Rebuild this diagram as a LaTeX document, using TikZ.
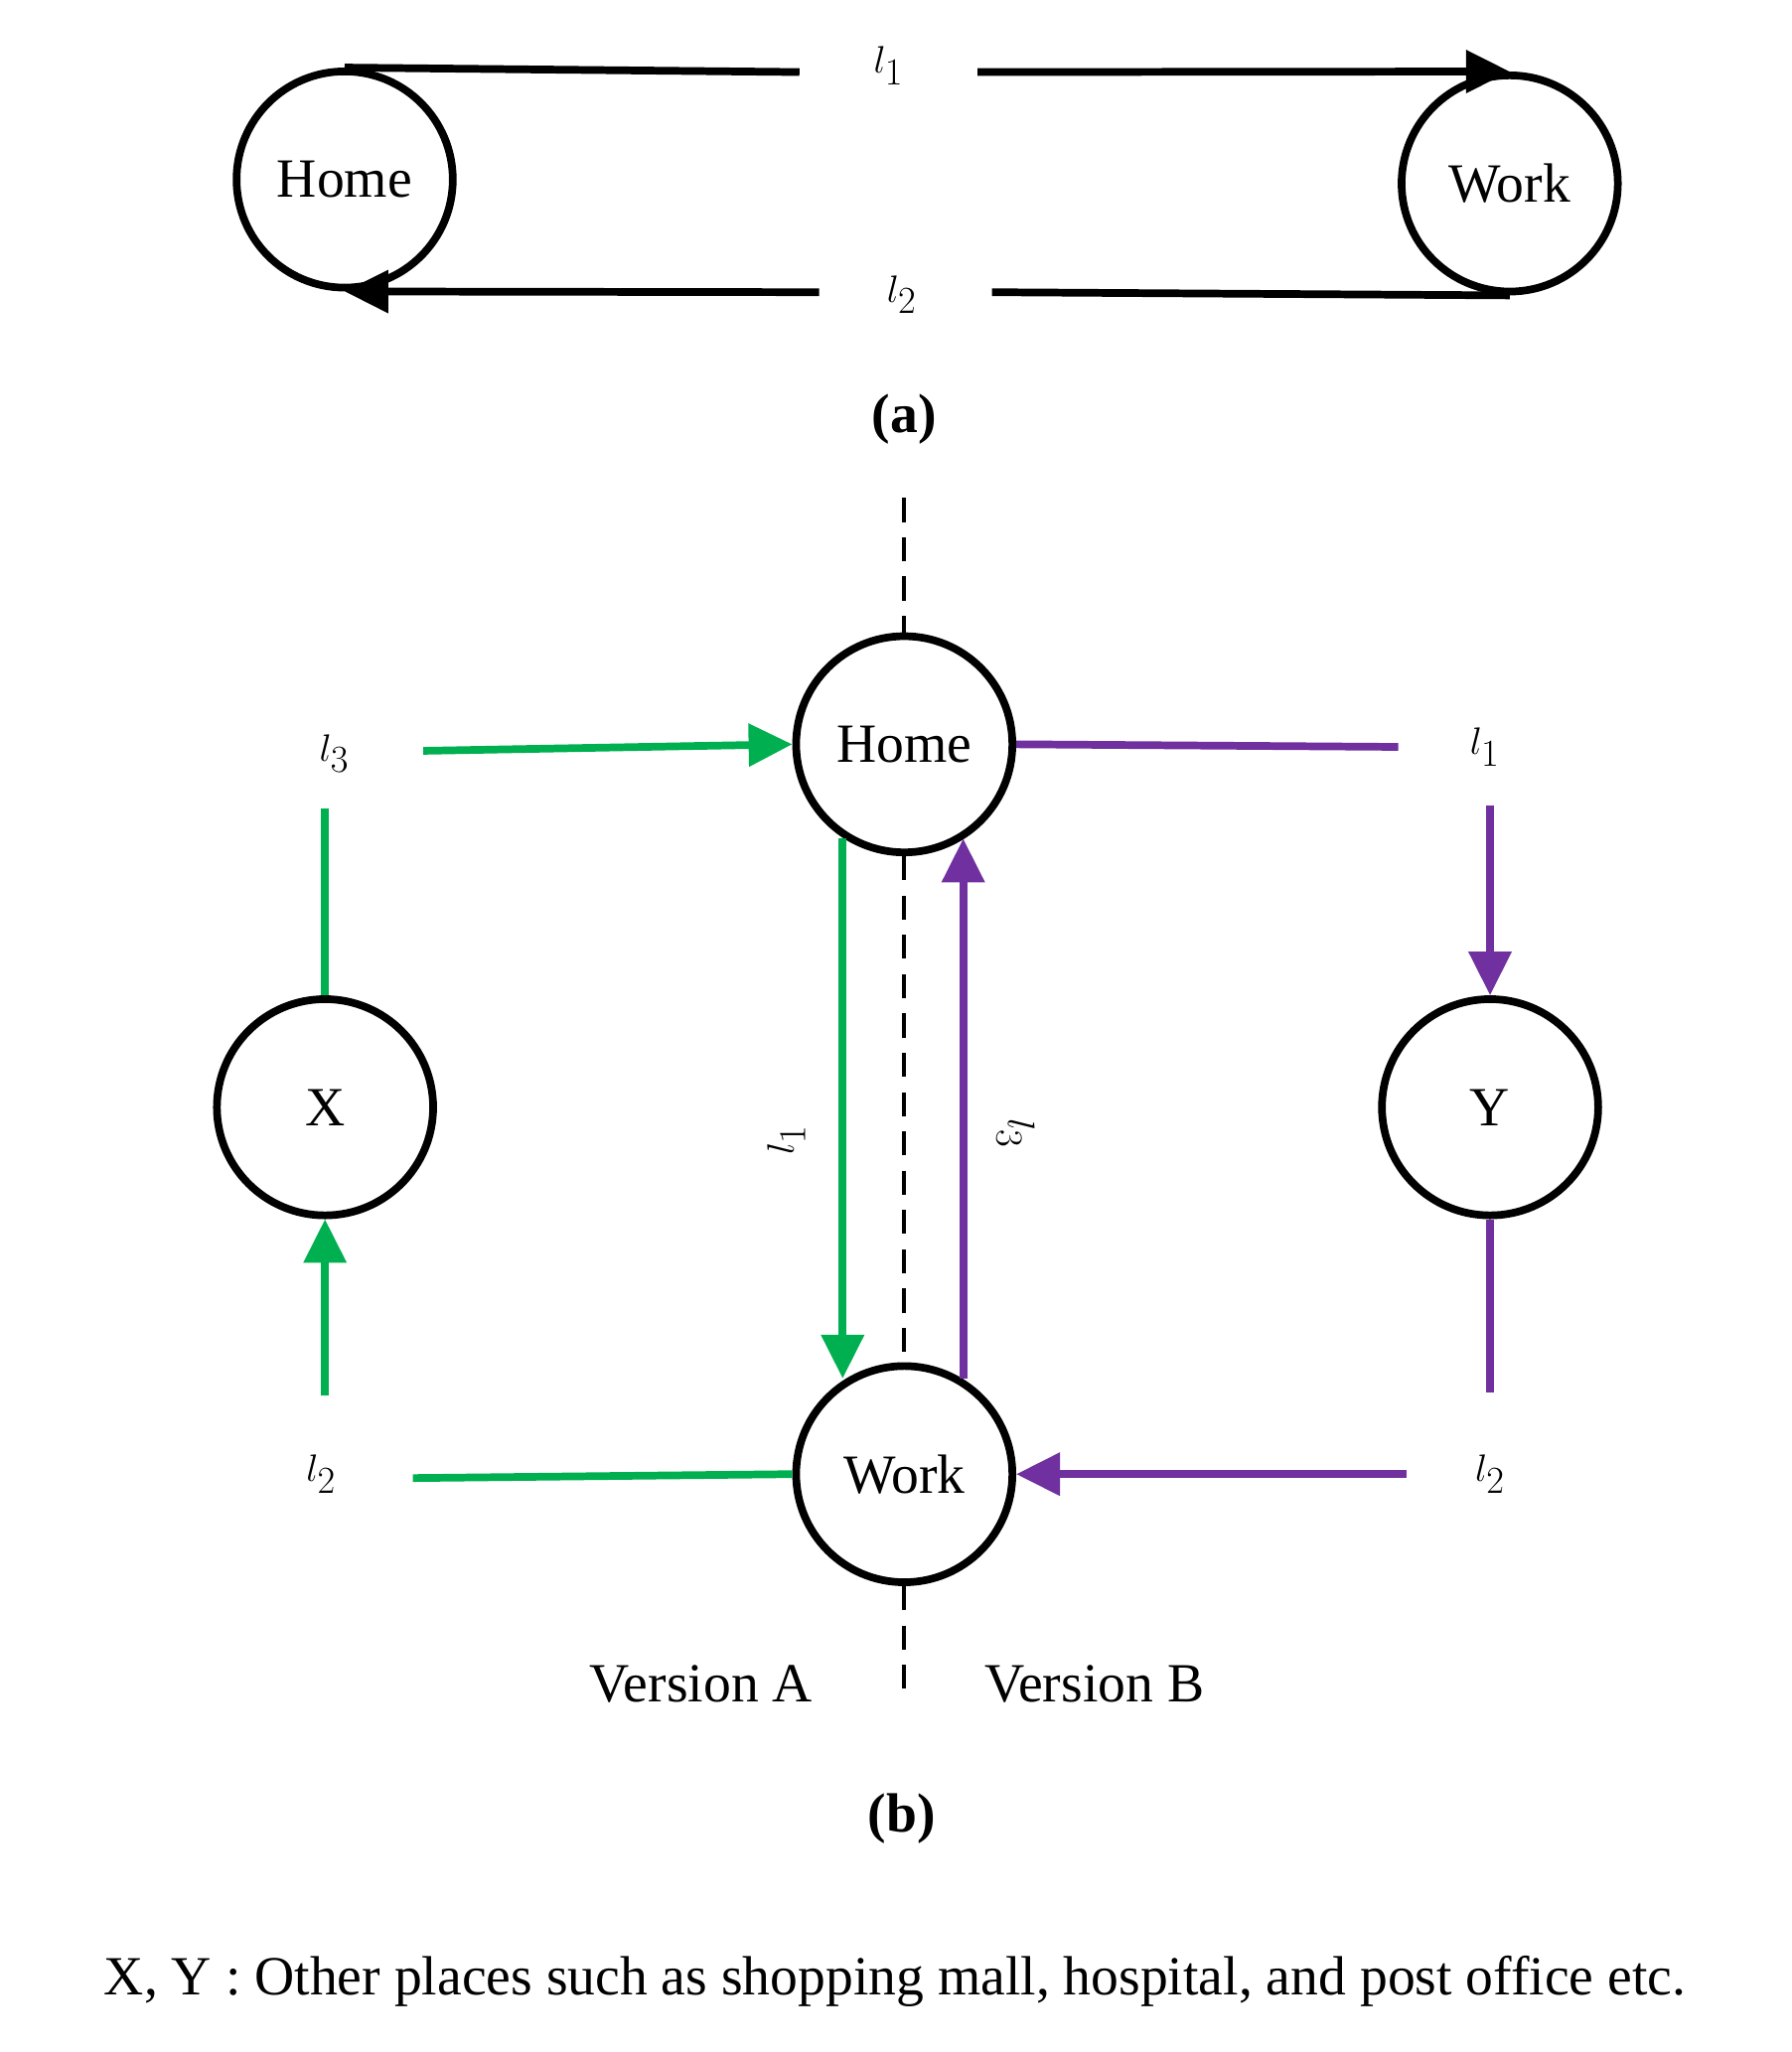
\documentclass[tikz,border=0pt]{standalone}
\usepackage{fontspec}
\setmainfont{Liberation Serif}
\usetikzlibrary{arrows.meta}
\definecolor{gr}{HTML}{00B050}
\definecolor{pu}{HTML}{7030A0}
\begin{document}
\begin{tikzpicture}[x=0.03cm,y=-0.03cm,
 place/.style={circle,draw,line width=5pt,minimum size=4.95cm,inner sep=0pt,font=\fontsize{36}{40}\selectfont},
 lab/.style={font=\fontsize{36}{40}\selectfont,inner sep=0pt},
 ln/.style={line width=5pt},
 arr/.style={ln,-{Triangle[length=1cm,width=0.95cm]}},
 dsh/.style={line width=2.5pt,dash pattern=on 0.55cm off 0.35cm}]
\useasboundingbox (0,0) rectangle (1367,1566);
% (a)
\node[place] (ha) at (263,137) {Home};
\node[place] (wa) at (1152,140) {Work};
\coordinate (t1) at (610,55); \coordinate (t2) at (746,55);
\coordinate (b1) at (757,223); \coordinate (b2) at (625,223);
\draw[ln] (ha.north) -- (t1);
\draw[arr] (t2) -- (wa.north);
\draw[ln] (wa.south) -- (b1);
\draw[arr] (b2) -- (ha.south);
\node[lab] (la1) at (678,50) {$l_1$};
\node[lab] (la2) at (688,225) {$l_2$};
\node[lab] (capa) at (690,320) {\textbf{(a)}};
% (b)
\node[place] (h) at (690,568) {Home};
\node[place] (w) at (690,1125) {Work};
\node[place] (x) at (248,845) {X};
\node[place] (y) at (1137,845) {Y};
\coordinate (d1) at (690,380); \coordinate (d2) at (690,1300);
\draw[dsh] (d1) -- (h.north);
\draw[dsh] (h.south) -- (w.north);
\draw[dsh] (w.south) -- (d2);
% green
\node[lab] (l3) at (255,575) {$l_3$};
\node[lab] (l2g) at (245,1125) {$l_2$};
\coordinate (g1) at (323,573); \coordinate (g2) at (248,617);
\coordinate (g3) at (248,1065); \coordinate (g4) at (315,1128);
\coordinate (g5) at (643,640); \coordinate (g6) at (643,1052);
\draw[arr,gr] (g1) -- (h.west);
\draw[ln,gr] (x.north) -- (g2);
\draw[arr,gr] (g3) -- (x.south);
\draw[ln,gr] (g4) -- (w.west);
\draw[arr,gr] (g5) -- (g6);
\node[lab,rotate=90] (l1g) at (600,870) {$l_1$};
% purple
\node[lab] (l1p) at (1133,570) {$l_1$};
\node[lab] (l2p) at (1137,1125) {$l_2$};
\coordinate (p1) at (1067,570); \coordinate (p2) at (1137,615);
\coordinate (p3) at (1137,1063); \coordinate (p4) at (1073,1125);
\coordinate (p5) at (735,1052); \coordinate (p6) at (735,640);
\draw[ln,pu] (h.east) -- (p1);
\draw[arr,pu] (p2) -- (y.north);
\draw[ln,pu] (y.south) -- (p3);
\draw[arr,pu] (p4) -- (w.east);
\draw[arr,pu] (p5) -- (p6);
\node[lab,rotate=-90] (l3p) at (775,865) {$l_3$};
\node[lab] (va) at (535,1285) {Version A};
\node[lab] (vb) at (835,1285) {Version B};
\node[lab] (capb) at (688,1388) {\textbf{(b)}};
\node[lab] (cap) at (683,1512) {X, Y : Other places such as shopping mall, hospital, and post office etc.};
\end{tikzpicture}
\end{document}
